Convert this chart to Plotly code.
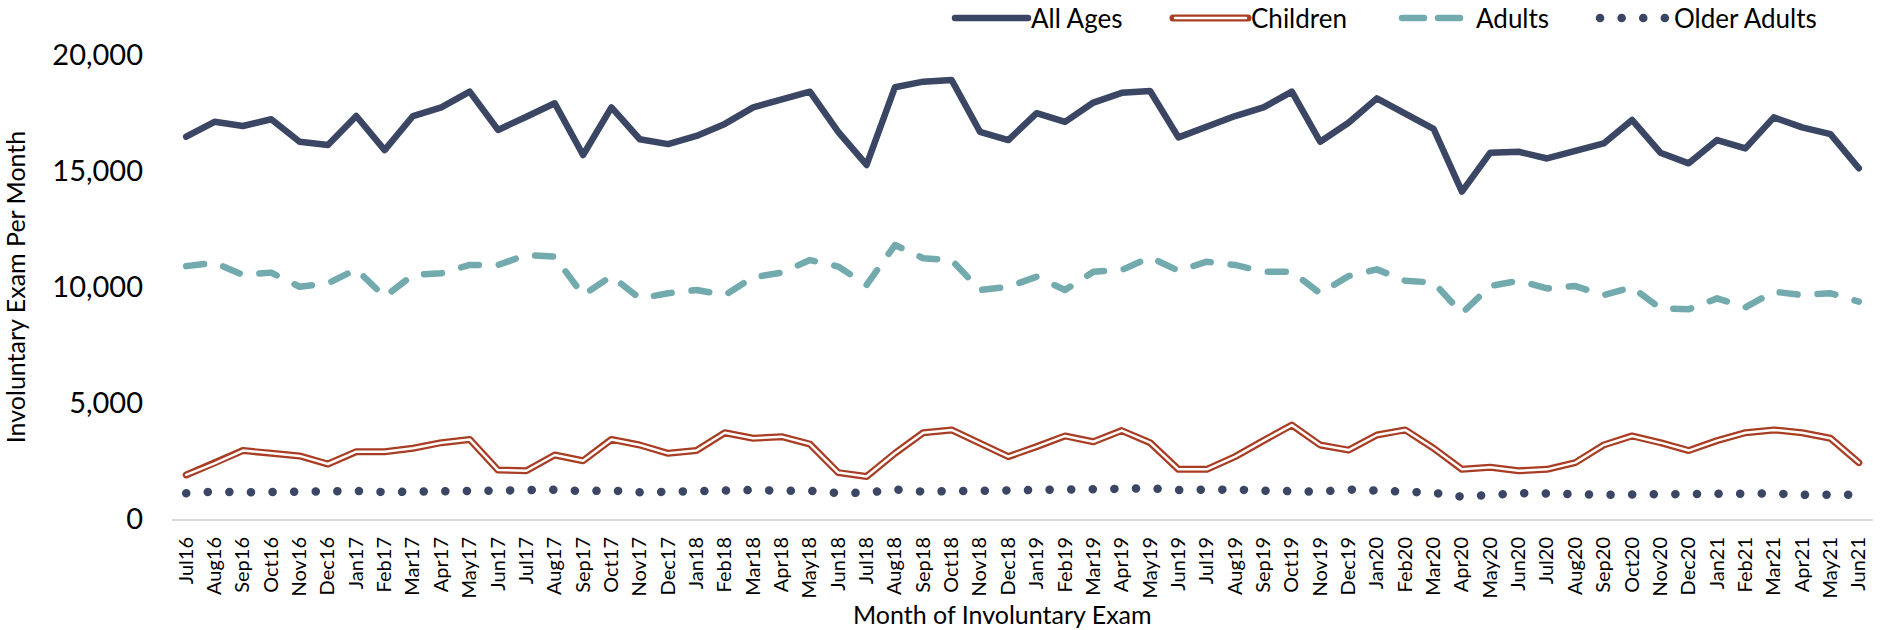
import plotly.graph_objects as go

months = ["Jul16","Aug16","Sep16","Oct16","Nov16","Dec16","Jan17","Feb17","Mar17","Apr17","May17","Jun17",
          "Jul17","Aug17","Sep17","Oct17","Nov17","Dec17","Jan18","Feb18","Mar18","Apr18","May18","Jun18",
          "Jul18","Aug18","Sep18","Oct18","Nov18","Dec18","Jan19","Feb19","Mar19","Apr19","May19","Jun19",
          "Jul19","Aug19","Sep19","Oct19","Nov19","Dec19","Jan20","Feb20","Mar20","Apr20","May20","Jun20",
          "Jul20","Aug20","Sep20","Oct20","Nov20","Dec20","Jan21","Feb21","Mar21","Apr21","May21","Jun21"]

all_ages = [16480, 17120, 16940, 17230, 16260, 16120, 17370, 15900, 17370, 17740, 18420, 16770,
            17340, 17920, 15690, 17740, 16370, 16160, 16510, 17030, 17740, 18090, 18420, 16690,
            15260, 18610, 18850, 18920, 16690, 16335, 17490, 17120, 17950, 18370, 18450, 16450,
            16940, 17370, 17740, 18420, 16260, 17080, 18130, 17490, 16820, 14110, 15790, 15830,
            15540, 15870, 16190, 17200, 15790, 15330, 16335, 15975, 17310, 16880, 16590, 15120]

children = [1900, 2400, 2950, 2830, 2720, 2370, 2900, 2900, 3050, 3290, 3430, 2110,
            2080, 2760, 2510, 3430, 3190, 2830, 2950, 3720, 3480, 3550, 3230, 2000,
            1830, 2830, 3720, 3840, 3260, 2690, 3120, 3580, 3330, 3810, 3290, 2140,
            2140, 2690, 3380, 4050, 3190, 2970, 3620, 3840, 3050, 2140, 2230, 2080,
            2140, 2430, 3190, 3580, 3290, 2950, 3380, 3720, 3840, 3720, 3480, 2430]

adults = [10900, 11050, 10520, 10620, 10010, 10160, 10760, 9580, 10520, 10590, 10950, 10950,
          11380, 11310, 9650, 10470, 9510, 9730, 9870, 9650, 10420, 10620, 11160, 10880,
          10090, 11810, 11240, 11160, 9870, 10010, 10440, 9870, 10660, 10730, 11280, 10700,
          11090, 10950, 10660, 10660, 9730, 10470, 10760, 10270, 10190, 8870, 10040, 10270,
          9940, 10040, 9650, 9990, 9080, 9040, 9510, 9120, 9800, 9650, 9730, 9370]

older_adults = [1110, 1180, 1150, 1180, 1170, 1180, 1210, 1160, 1180, 1180, 1200, 1190,
                1240, 1260, 1200, 1230, 1150, 1180, 1230, 1240, 1250, 1220, 1220, 1120,
                1130, 1270, 1180, 1200, 1220, 1220, 1260, 1280, 1300, 1300, 1320, 1250,
                1290, 1270, 1220, 1200, 1180, 1270, 1240, 1180, 1130, 960, 1050, 1110,
                1100, 1050, 1040, 1060, 1080, 1100, 1100, 1070, 1100, 1040, 1040, 1050]

series_names = ["All Ages", "Children", "Adults", "Older Adults"]
y_ticks = [0, 5000, 10000, 15000, 20000]

NAVY = "#3A4663"
RED = "#A93D23"
TEAL = "#72AAAD"
FONT = "Lato"

W, H = 1889, 630
L, R, T, B = 172, 16, 55, 111
PW, PH = W - L - R, H - T - B

def px_x(p):
    return (p - L) / PW

def px_y(p):
    return (H - B - p) / PH

fig = go.Figure()
fig.add_trace(go.Scatter(x=months, y=all_ages, mode="lines", name=series_names[0],
                         line=dict(color=NAVY, width=6.5), showlegend=False))
fig.add_trace(go.Scatter(x=months, y=children, mode="lines", name=series_names[1],
                         line=dict(color=RED, width=7), showlegend=False))
fig.add_trace(go.Scatter(x=months, y=children, mode="lines", name=series_names[1] + " inner",
                         line=dict(color="white", width=2.5), showlegend=False, hoverinfo="skip"))
fig.add_trace(go.Scatter(x=months, y=adults, mode="lines", name=series_names[2],
                         line=dict(color=TEAL, width=6.5, dash="18px,20px"), showlegend=False))
fig.add_trace(go.Scatter(x=months, y=older_adults, mode="lines", name=series_names[3],
                         line=dict(color=NAVY, width=8.5, dash="0.1px,21.5px"), showlegend=False))

# custom legend (pixel positions converted to paper coords)
ly = px_y(18)
legend_items = [
    (955, 1028, 1029, dict(color=NAVY, width=6.5)),
    (1173, 1248, 1249, dict(color=RED, width=7)),
    (1402, 1470, 1474, dict(color=TEAL, width=6.5, dash="22px,14px")),
    (1600, 1665, 1672, dict(color=NAVY, width=8.5, dash="0.1px,21.5px")),
]
shapes = []
annotations = []
for (x0, x1, tx, ln), name in zip(legend_items, series_names):
    shapes.append(dict(type="line", xref="paper", yref="paper", x0=px_x(x0), x1=px_x(x1),
                       y0=ly, y1=ly, line=ln))
    if name == "Children":
        shapes.append(dict(type="line", xref="paper", yref="paper", x0=px_x(x0 + 2), x1=px_x(x1 - 2),
                           y0=ly, y1=ly, line=dict(color="white", width=2.5)))
    annotations.append(dict(text=name, xref="paper", yref="paper", x=px_x(tx), y=ly,
                            xanchor="left", yanchor="middle", showarrow=False,
                            font=dict(family=FONT, size=26, color="black")))

# x-axis title (positioned to match the original, slightly left of plot centre)
annotations.append(dict(text="Month of Involuntary Exam", xref="paper", yref="paper",
                        x=px_x(1002), y=px_y(614), xanchor="center", yanchor="middle",
                        showarrow=False, font=dict(family=FONT, size=25, color="black")))

fig.update_layout(
    width=W, height=H,
    margin=dict(l=L, r=R, t=T, b=B, autoexpand=False),
    paper_bgcolor="white", plot_bgcolor="white",
    font=dict(family=FONT, color="black"),
    shapes=shapes, annotations=annotations,
    showlegend=False,
)
fig.update_xaxes(type="category", range=[-0.5, len(months) - 0.5],
                 showline=True, linecolor="#D9D9D9", linewidth=2, showgrid=False, zeroline=False,
                 ticks="", tickangle=-90, tickfont=dict(family=FONT, size=20, color="black"),
                 ticklabelstandoff=8,
                 automargin=False)
fig.update_yaxes(range=[0, 20000], tickvals=y_ticks, tickformat=",", showgrid=False, zeroline=False,
                 showline=False, ticks="", tickfont=dict(family=FONT, size=29, color="black"),
                 ticklabelstandoff=28,
                 title=dict(text="Involuntary Exam Per Month", font=dict(family=FONT, size=25, color="black"),
                            standoff=21),
                 automargin=False)

post = """
var s=document.createElement('style');
s.textContent='html,body{margin:0;padding:0} .js-line{stroke-linecap:round;stroke-linejoin:round} .shapelayer path{stroke-linecap:round}';
document.head.appendChild(s);
"""
fig.write_html("out.html", post_script=post, config={"displayModeBar": False})
